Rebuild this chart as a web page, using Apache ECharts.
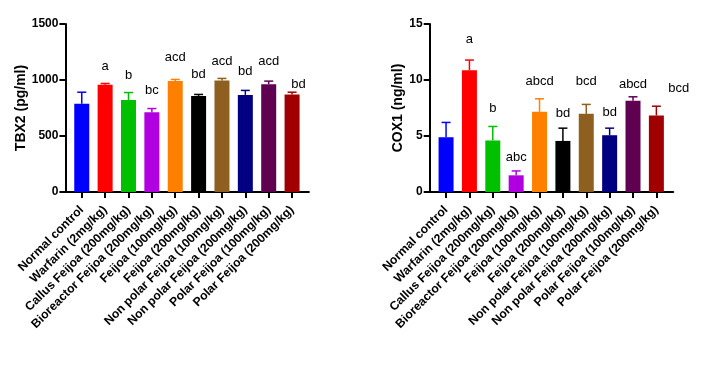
<!DOCTYPE html>
<html>
<head>
<meta charset="utf-8">
<script src="https://cdn.jsdelivr.net/npm/echarts@6/dist/echarts.min.js"></script>
<style>
  html, body { margin: 0; padding: 0; background: #fff; }
  #chart { width: 721px; height: 373px; }
</style>
</head>
<body>
<div id="chart"></div>
<script>
// groups on the x axis (same for both panels)
const groups = [
  'Normal control',
  'Warfarin (2mg/kg)',
  'Callus Feijoa (200mg/kg)',
  'Bioreactor Feijoa (200mg/kg)',
  'Feijoa (100mg/kg)',
  'Feijoa (200mg/kg)',
  'Non polar Feijoa (100mg/kg)',
  'Non polar Feijoa (200mg/kg)',
  'Polar Feijoa (100mg/kg)',
  'Polar Feijoa (200mg/kg)'
];
const barColors = ['#0000ff', '#ff0000', '#00c000', '#b000e0', '#ff8000',
                   '#000000', '#8f5f20', '#000080', '#5f0050', '#a00000'];

// TBX2 panel
const tbxMean = [787, 958, 822, 712, 992, 858, 995, 867, 963, 871];
const tbxErr = [104, 11, 66, 33, 13, 13, 19, 40, 27, 20];
const tbxLetters = ['', 'a', 'b', 'bc', 'acd', 'bd', 'acd', 'bd', 'acd', 'bd'];
const tbxLetterAt = [null, [1, 1120], [2, 1037], [3, 909], [4, 1202], [5, 1052],
                     [6, 1162], [7, 1079], [8, 1162], [9.27, 960]];
const tbxTicks = [0, 500, 1000, 1500];

// COX1 panel
const coxMean = [4.89, 10.86, 4.6, 1.49, 7.16, 4.56, 6.98, 5.07, 8.14, 6.83];
const coxErr = [1.32, 0.92, 1.25, 0.39, 1.16, 1.14, 0.84, 0.63, 0.36, 0.83];
const coxLetters = ['', 'a', 'b', 'abc', 'abcd', 'bd', 'bcd', 'bd', 'abcd', 'bcd'];
const coxLetterAt = [null, [1, 13.6], [2, 7.49], [3, 3.08], [4, 9.9], [5, 7.01],
                     [6, 9.9], [7, 7.1], [8, 9.63], [9.96, 9.25]];
const coxTicks = [0, 5, 10, 15];

const idx = groups.map((g, i) => i);
const font = "'Liberation Sans', Arial, sans-serif";

const myChart = echarts.init(document.getElementById('chart'));

function errorItem(params, api) {
  const x = api.value(0);
  const base = api.coord([x, api.value(1)]);
  const top = api.coord([x, api.value(2)]);
  const color = barColors[params.dataIndex];
  return {
    type: 'group',
    children: [
      {type: 'line', shape: {x1: base[0], y1: base[1], x2: top[0], y2: top[1]},
        style: {stroke: color, lineWidth: 1.5}},
      {type: 'line', shape: {x1: top[0] - 4.5, y1: top[1], x2: top[0] + 4.5, y2: top[1]},
        style: {stroke: color, lineWidth: 1.5}}
    ]
  };
}

function letterRenderer(letters) {
  return (params, api) => {
    const p = api.coord([api.value(0), api.value(1)]);
    return {
      type: 'text', x: p[0], y: p[1],
      style: {text: letters[params.dataIndex], fontSize: 13, fontFamily: font,
        fill: '#000', align: 'center', verticalAlign: 'middle'}
    };
  };
}

function xAxisFor(gridIndex) {
  return {
    type: 'value', gridIndex: gridIndex, min: -0.7, max: 9.72,
    splitLine: {show: false},
    axisLine: {show: true, onZero: false, lineStyle: {color: '#000', width: 2}},
    axisTick: {show: true, customValues: idx, length: 6, lineStyle: {color: '#000', width: 2}},
    axisLabel: {customValues: idx, rotate: 45, margin: 16, color: '#000',
      fontFamily: font, fontWeight: 'bold', fontSize: 12.2,
      formatter: v => groups[Math.round(v)]}
  };
}

function yAxisFor(gridIndex, name, ticks, nameGap) {
  return {
    type: 'value', gridIndex: gridIndex, min: ticks[0], max: ticks[ticks.length - 1],
    interval: ticks[1] - ticks[0],
    name: name, nameLocation: 'middle', nameGap: nameGap, nameMoveOverlap: false,
    nameTextStyle: {color: '#000', fontFamily: font, fontWeight: 'bold', fontSize: 14},
    splitLine: {show: false},
    axisLine: {show: true, onZero: false, lineStyle: {color: '#000', width: 2}},
    axisTick: {show: true, length: 6, lineStyle: {color: '#000', width: 2}},
    axisLabel: {margin: 7, color: '#000', fontFamily: font, fontWeight: 'bold', fontSize: 12,
      formatter: v => String(v)}
  };
}

function panelSeries(i, mean, err, letters, letterAt) {
  return [
    {
      type: 'bar', xAxisIndex: i, yAxisIndex: i, barWidth: 15,
      data: mean.map((v, k) => [k, v]),
      itemStyle: {color: p => barColors[p.dataIndex]}
    },
    {
      type: 'custom', xAxisIndex: i, yAxisIndex: i, z: 3,
      renderItem: errorItem,
      data: mean.map((v, k) => [k, v, v + err[k]])
    },
    {
      type: 'custom', xAxisIndex: i, yAxisIndex: i, z: 4,
      renderItem: letterRenderer(letters),
      data: letterAt.map(p => p ? p : [0, null])
    }
  ];
}

const option = {
  backgroundColor: '#fff',
  animation: false,
  grid: [
    {left: 65.4, top: 24, width: 243.5, height: 168, containLabel: false, outerBoundsMode: 'none'},
    {left: 429.7, top: 24, width: 243.5, height: 168, containLabel: false, outerBoundsMode: 'none'}
  ],
  xAxis: [xAxisFor(0), xAxisFor(1)],
  yAxis: [
    yAxisFor(0, 'TBX2 (pg/ml)', tbxTicks, 37),
    yAxisFor(1, 'COX1 (ng/ml)', coxTicks, 25)
  ],
  series: [].concat(
    panelSeries(0, tbxMean, tbxErr, tbxLetters, tbxLetterAt),
    panelSeries(1, coxMean, coxErr, coxLetters, coxLetterAt)
  )
};

myChart.setOption(option);
</script>
</body>
</html>
